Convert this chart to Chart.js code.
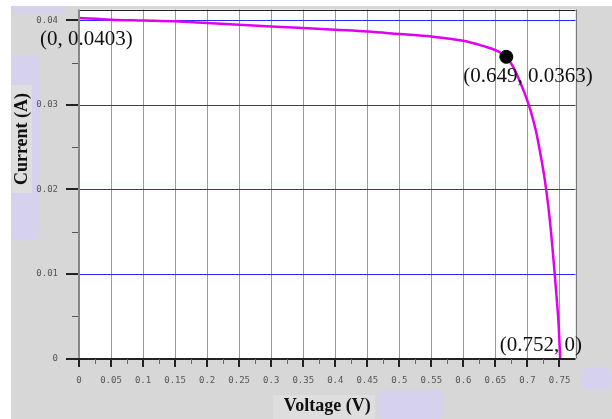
<!DOCTYPE html>
<html>
<head>
<meta charset="utf-8">
<script src="https://cdn.jsdelivr.net/npm/chart.js@4/dist/chart.umd.min.js"></script>
<style>
    html, body { margin: 0; padding: 0; background: #fff; }
    #wrap { position: relative; width: 612px; height: 419px; overflow: hidden; }
    .panel { position: absolute; left: 11px; top: 6px; width: 601px; height: 413px; background: #d7d7d7; }
    .blob { position: absolute; background: #d6d2ee; border-radius: 6px; }
    .lite { position: absolute; background: #dedede; }
    canvas { position: absolute; left: 0; top: 0; }
</style>
</head>
<body>
<div id="wrap">
    <div class="panel"></div>
    <div class="blob" style="left:11px; top:6px; width:55px; height:7px;"></div>
    <div class="blob" style="left:11px; top:55px; width:28px; height:185px;"></div>
    <div class="blob" style="left:377px; top:390px; width:66px; height:29px;"></div>
    <div class="blob" style="left:582px; top:367px; width:30px; height:23px;"></div>
    <div class="lite" style="left:12px; top:85px; width:20px; height:108px;"></div>
    <div class="lite" style="left:273px; top:395px; width:102px; height:24px;"></div>
    <canvas id="chart" width="612" height="419"></canvas>
</div>
<script>
// I-V curve
const voltage = [0, 0.05, 0.1, 0.15, 0.2, 0.25, 0.3, 0.35, 0.4, 0.45, 0.5, 0.55, 0.6, 0.63, 0.65, 0.667, 0.677, 0.687, 0.697, 0.705, 0.713, 0.72, 0.727, 0.733, 0.738, 0.742, 0.746, 0.749, 0.751];
const current = [0.0403, 0.0401, 0.0400, 0.0399, 0.0397, 0.0395, 0.0393, 0.0391, 0.0389, 0.0387, 0.0384, 0.0381, 0.0376, 0.0370, 0.0365, 0.0357, 0.0346, 0.0330, 0.0311, 0.0293, 0.0270, 0.0243, 0.0212, 0.0177, 0.0140, 0.0105, 0.0068, 0.0036, 0];

const markerPoint = { x: 0.667, y: 0.0357 };

const xTickValues = [0, 0.05, 0.1, 0.15, 0.2, 0.25, 0.3, 0.35, 0.4, 0.45, 0.5, 0.55, 0.6, 0.65, 0.7, 0.75];
const xTickLabels = ['0', '0.05', '0.1', '0.15', '0.2', '0.25', '0.3', '0.35', '0.4', '0.45', '0.5', '0.55', '0.6', '0.65', '0.7', '0.75'];
const yTickValues = [0, 0.01, 0.02, 0.03, 0.04];
const yTickLabels = ['0', '0.01', '0.02', '0.03', '0.04'];
const xMinorStep = 0.025;
const yMinorStep = 0.005;

const callouts = [
    { text: '(0, 0.0403)', x: 0, y: 0.0403, dx: -39, dy: 27 },
    { text: '(0.649, 0.0363)', x: 0.667, y: 0.0357, dx: -43, dy: 25 },
    { text: '(0.752, 0)', x: 0.752, y: 0, dx: -61, dy: -8 },
];

const tickFont = { family: '"DejaVu Sans Mono", monospace', size: 9 };
const titleFont = { family: '"Liberation Serif", serif', size: 18, weight: 'bold' };

const framePlugin = {
    id: 'frame',
    beforeDraw(chart) {
        const { ctx, chartArea: a } = chart;
        ctx.save();
        ctx.fillStyle = '#fff';
        ctx.fillRect(a.left, a.top, a.right - a.left, a.bottom - a.top);
        ctx.restore();
    },
    beforeDatasetsDraw(chart) {
        const { ctx, chartArea: a, scales } = chart;
        ctx.save();
        // grid
        ctx.fillStyle = '#8c8cff';
        xTickValues.slice(1).forEach((v) => {
            ctx.fillRect(Math.round(scales.x.getPixelForValue(v)), a.top, 1, a.bottom - a.top);
        });
        ctx.fillStyle = '#2a2aff';
        yTickValues.slice(1).forEach((v) => {
            ctx.fillRect(a.left, Math.round(scales.y.getPixelForValue(v)), a.right - a.left, 1);
        });
        ctx.restore();
    },
    afterDraw(chart) {
        const { ctx, chartArea: a, scales } = chart;
        const xs = scales.x, ys = scales.y;
        ctx.save();
        // frame
        ctx.fillStyle = '#222';
        ctx.fillRect(a.left, Math.round(a.top), a.right - a.left, 1);
        ctx.fillStyle = '#777';
        ctx.fillRect(Math.round(a.right), a.top, 1, a.bottom - a.top);
        ctx.fillStyle = '#888';
        ctx.fillRect(Math.round(a.left) - 1, a.top, 2, a.bottom - a.top + 1);
        ctx.fillStyle = '#222';
        ctx.fillRect(a.left - 1, Math.round(a.bottom) - 1, a.right - a.left + 1, 2);

        // x tick marks, major and minor
        for (let i = 0; i * xMinorStep <= 0.75 + 1e-9; i++) {
            const px = Math.round(xs.getPixelForValue(i * xMinorStep));
            const major = i % 2 === 0;
            ctx.fillStyle = major ? '#222' : '#666';
            ctx.fillRect(px - (major ? 1 : 0), Math.round(a.bottom), major ? 2 : 1, major ? 8 : 5);
        }
        // y tick marks
        for (let i = 0; i * yMinorStep <= 0.04 + 1e-9; i++) {
            const py = Math.round(ys.getPixelForValue(i * yMinorStep));
            const major = i % 2 === 0;
            const len = major ? 12 : 6;
            ctx.fillStyle = major ? '#222' : '#555';
            ctx.fillRect(Math.round(a.left) - 1 - len, py - (major ? 1 : 0), len, major ? 2 : 1);
        }

        // y axis title sits above centre in the original
        ctx.fillStyle = '#111';
        ctx.font = 'bold 18px "Liberation Serif", serif';
        ctx.translate(22, 139);
        ctx.rotate(-Math.PI / 2);
        ctx.textAlign = 'center';
        ctx.textBaseline = 'middle';
        ctx.fillText('Current (A)', 0, 0);
        ctx.setTransform(1, 0, 0, 1, 0, 0);

        // callout texts
        ctx.font = '21px "Liberation Serif", serif';
        ctx.textAlign = 'left';
        ctx.textBaseline = 'alphabetic';
        callouts.forEach((c) => {
            ctx.fillText(c.text, xs.getPixelForValue(c.x) + c.dx, ys.getPixelForValue(c.y) + c.dy);
        });
        ctx.restore();
    },
};

new Chart(document.getElementById('chart'), {
    type: 'scatter',
    data: {
        datasets: [
            {
                data: voltage.map((v, i) => ({ x: v, y: current[i] })),
                showLine: true,
                borderColor: '#e000f0',
                borderWidth: 2.5,
                pointRadius: 0,
                cubicInterpolationMode: 'monotone',
                order: 2,
            },
            {
                data: [markerPoint],
                pointRadius: 6.5,
                backgroundColor: '#000',
                borderColor: '#000',
                order: 1,
            },
        ],
    },
    options: {
        responsive: false,
        animation: false,
        layout: { padding: { top: 9.5, right: 36.5, left: 0, bottom: 0 } },
        plugins: { legend: { display: false }, tooltip: { enabled: false } },
        scales: {
            x: {
                type: 'linear',
                min: 0,
                max: 0.775,
                afterBuildTicks: (scale) => { scale.ticks = xTickValues.map((v) => ({ value: v })); },
                afterFit: (scale) => {
                    scale.height = 60.5;
                    scale.paddingLeft = 0;
                    scale.paddingRight = 0;
                },
                ticks: {
                    autoSkip: false,
                    maxRotation: 0,
                    padding: 17,
                    color: '#555',
                    font: tickFont,
                    callback: (value, index) => xTickLabels[index],
                },
                grid: { display: false, drawTicks: false },
                border: { display: false },
                title: { display: true, text: 'Voltage (V)', color: '#111', font: titleFont, padding: { top: 0, bottom: 2 } },
            },
            y: {
                type: 'linear',
                min: 0,
                max: 0.0413,
                afterBuildTicks: (scale) => { scale.ticks = yTickValues.map((v) => ({ value: v })); },
                afterFit: (scale) => {
                    scale.width = 79;
                    scale.paddingTop = 0;
                    scale.paddingBottom = 0;
                },
                ticks: {
                    padding: 21,
                    color: '#555',
                    font: tickFont,
                    callback: (value, index) => yTickLabels[index],
                },
                grid: { display: false, drawTicks: false },
                border: { display: false },
                title: { display: false },
            },
        },
    },
    plugins: [framePlugin],
});
</script>
</body>
</html>
